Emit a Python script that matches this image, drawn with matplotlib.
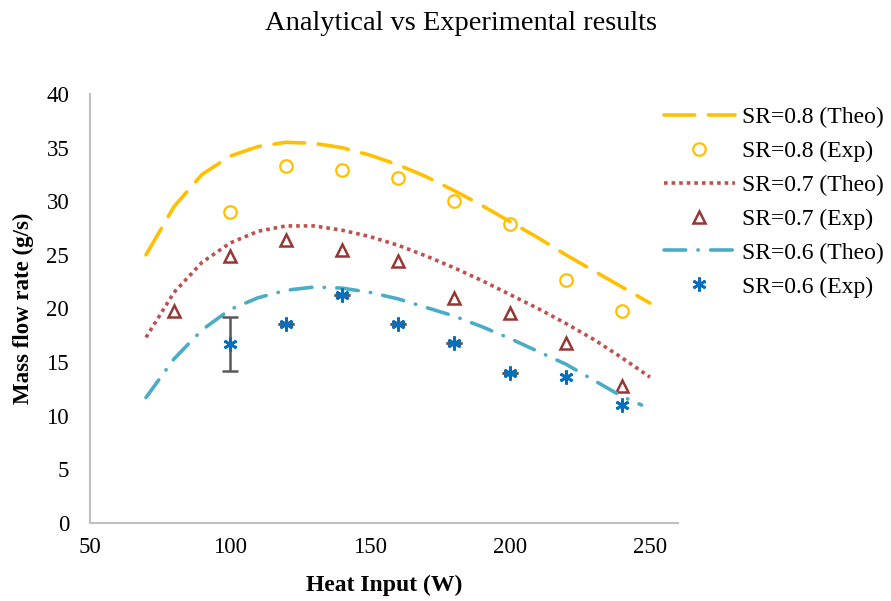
import matplotlib
matplotlib.use("Agg")
import matplotlib.pyplot as plt
import numpy as np

plt.rcParams['font.family'] = ['Liberation Serif', 'DejaVu Serif']

# theoretical curves
heat_theo = [70, 80, 90, 100, 110, 120, 130, 140, 150, 160, 170, 180, 190, 200, 210, 220, 230, 240, 250]
sr08_theo = [25.0, 29.5, 32.5, 34.2, 35.1, 35.5, 35.4, 35.0, 34.3, 33.4, 32.3, 31.0, 29.6, 28.1, 26.6, 25.0, 23.5, 22.0, 20.5]
sr07_theo = [17.3, 21.5, 24.3, 26.1, 27.2, 27.7, 27.7, 27.3, 26.7, 25.9, 24.9, 23.8, 22.6, 21.3, 20.0, 18.6, 17.1, 15.4, 13.6]
heat_theo06 = [70, 80, 90, 100, 110, 120, 130, 140, 150, 160, 170, 180, 190, 200, 210, 220, 230, 240, 247]
sr06_theo = [11.7, 15.3, 18.0, 19.9, 21.0, 21.7, 22.0, 21.9, 21.5, 20.9, 20.1, 19.3, 18.3, 17.2, 16.0, 14.8, 13.3, 11.8, 11.0]

# experimental points
heat_exp08 = [100, 120, 140, 160, 180, 200, 220, 240]
sr08_exp = [29.0, 33.3, 32.9, 32.2, 30.0, 27.9, 22.7, 19.8]
heat_exp07 = [80, 100, 120, 140, 160, 180, 200, 220, 240]
sr07_exp = [19.8, 24.9, 26.4, 25.5, 24.4, 21.0, 19.6, 16.8, 12.8]
heat_exp06 = [100, 120, 140, 160, 180, 200, 220, 240]
sr06_exp = [16.7, 18.6, 21.3, 18.6, 16.8, 14.0, 13.6, 11.0]
sr06_err = [2.55, 0, 0, 0, 0, 0, np.nan, np.nan]

fig = plt.figure(figsize=(8.91, 6.01), dpi=100)
ax = fig.add_axes([90/891, 1-523/601, (678-90)/891, (523-94)/601])

l1, = ax.plot(heat_theo, sr08_theo, color='#FFC000', lw=2.6, dashes=(8.5, 3.8),
              dash_capstyle='round', label='SR=0.8 (Theo)')
p1, = ax.plot(heat_exp08, sr08_exp, 'o', ms=9, mfc='none', mec='#FFC000', mew=1.6,
              label='SR=0.8 (Exp)')
l2, = ax.plot(heat_theo, sr07_theo, color='#C0504D', lw=2.6, dashes=(1, 1.1),
              dash_capstyle='butt', label='SR=0.7 (Theo)')
p2, = ax.plot(heat_exp07, sr07_exp, '^', ms=8.5, mfc='none', mec='#953735', mew=1.8,
              label='SR=0.7 (Exp)')
l3, = ax.plot(heat_theo06, sr06_theo, color='#4BACC6', lw=2.6, dashes=(6, 3.4, 0.1, 3.4),
              dash_capstyle='round', label='SR=0.6 (Theo)')
ax.errorbar(heat_exp06, sr06_exp, yerr=sr06_err, fmt='none', ecolor='#595959',
            elinewidth=1.8, capsize=6, capthick=1.8, zorder=3)
p3, = ax.plot(heat_exp06, sr06_exp, ls='none', marker=(6, 2, 0), ms=10, mec='#0070C0',
              mew=2.0, label='SR=0.6 (Exp)', zorder=4)

ax.set_xlim(50, 260)
ax.set_ylim(0, 40)
ax.set_xticks([50, 100, 150, 200, 250])
ax.set_yticks(range(0, 41, 5))
ax.tick_params(length=0, labelsize=16.5, colors='black')
ax.tick_params(axis='y', pad=15)
ax.tick_params(axis='x', pad=10)
for s in ['top', 'right']:
    ax.spines[s].set_visible(False)
for s in ['left', 'bottom']:
    ax.spines[s].set_color('#BFBFBF')
    ax.spines[s].set_linewidth(1.5)

ax.set_xlabel('Heat Input (W)', fontsize=17, fontweight='bold', labelpad=12)
ax.set_ylabel('Mass flow rate (g/s)', fontsize=16.5, fontweight='bold', labelpad=9)
fig.text(461/891, 1-24/601, 'Analytical vs Experimental results', fontsize=20.5,
         ha='center', va='center')

fig.legend(handles=[l1, p1, l2, p2, l3, p3], loc='upper left',
           bbox_to_anchor=(664/891, 1-107/601), frameon=False, fontsize=17,
           handlelength=3.0, handletextpad=0.3, labelspacing=0.52, borderpad=0,
           borderaxespad=0)

fig.savefig('out.png', dpi=100)
